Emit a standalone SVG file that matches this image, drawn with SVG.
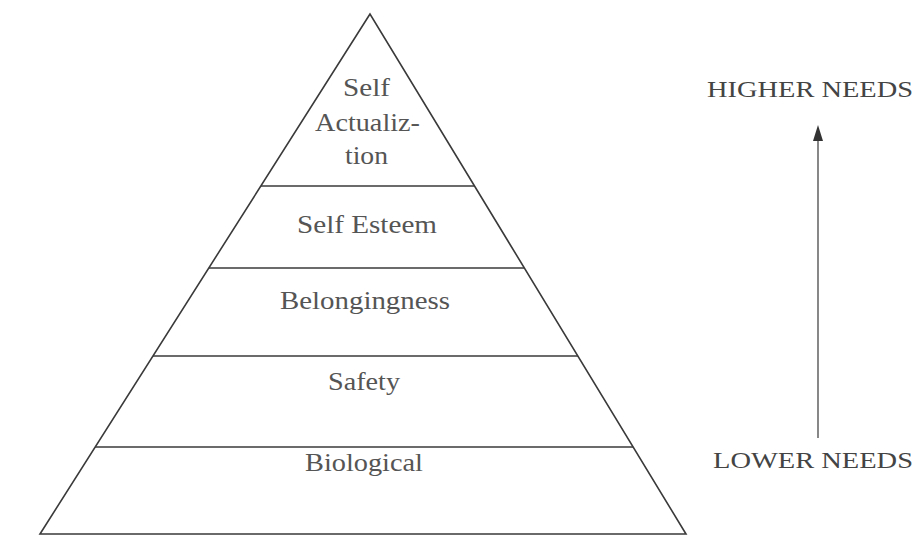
<svg xmlns="http://www.w3.org/2000/svg" width="921" height="538" viewBox="0 0 921 538">
<style>
.edge{stroke:#3a3a3a;stroke-width:1.6;fill:none}
.lbl{font-family:"Liberation Serif",serif;font-size:26px;fill:#555}
.side{font-family:"Liberation Serif",serif;font-size:23px;fill:#444}
</style>
<rect width="921" height="538" fill="#fff"/>
<g id="pyramid">
<path class="edge" d="M370,14 L40,534 L686,534 Z"/>
<line class="edge" x1="261" y1="186" x2="474" y2="186"/>
<line class="edge" x1="209" y1="268" x2="524" y2="268"/>
<line class="edge" x1="153" y1="356" x2="578" y2="356"/>
<line class="edge" x1="95" y1="447" x2="633" y2="447"/>
</g>
<g id="self-actualization">
<text class="lbl" x="343" y="96" textLength="47" lengthAdjust="spacingAndGlyphs">Self</text>
<text class="lbl" x="315" y="131" textLength="105" lengthAdjust="spacingAndGlyphs">Actualiz-</text>
<text class="lbl" x="345" y="164" textLength="43" lengthAdjust="spacingAndGlyphs">tion</text>
</g>
<g id="self-esteem"><text class="lbl" x="297" y="233" textLength="140" lengthAdjust="spacingAndGlyphs">Self Esteem</text></g>
<g id="belongingness"><text class="lbl" x="280" y="309" textLength="170" lengthAdjust="spacingAndGlyphs">Belongingness</text></g>
<g id="safety"><text class="lbl" x="328" y="390" textLength="72" lengthAdjust="spacingAndGlyphs">Safety</text></g>
<g id="biological"><text class="lbl" x="305" y="471" textLength="118" lengthAdjust="spacingAndGlyphs">Biological</text></g>
<g id="higher-needs"><text class="side" x="707" y="97" textLength="206" lengthAdjust="spacingAndGlyphs">HIGHER NEEDS</text></g>
<g id="lower-needs"><text class="side" x="713" y="468" textLength="200" lengthAdjust="spacingAndGlyphs">LOWER NEEDS</text></g>
<g id="connectors">
<line x1="818" y1="438" x2="818" y2="140" stroke="#555" stroke-width="1.4"/>
<path d="M818,125 L823,141 L813,141 Z" fill="#333"/>
</g>
</svg>
